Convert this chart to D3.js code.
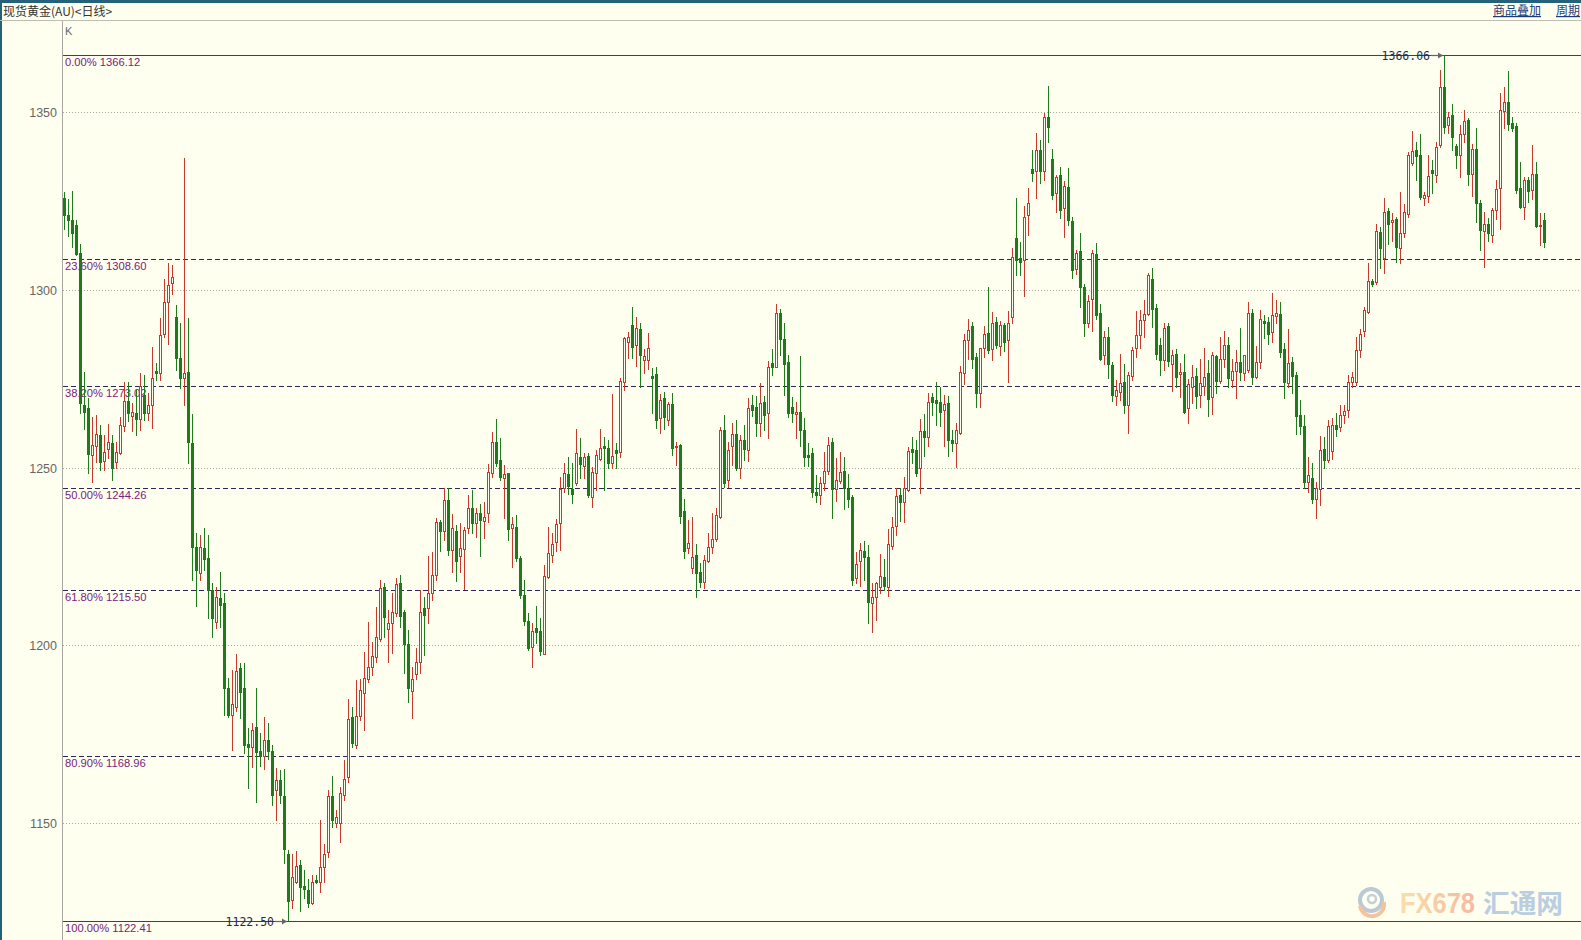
<!DOCTYPE html>
<html><head><meta charset="utf-8">
<script src="https://cdn.jsdelivr.net/npm/d3@7"></script>
<style>
html,body{margin:0;padding:0;background:#FFFFF0;overflow:hidden;}
svg{display:block;}
</style></head><body>
<svg id="c" width="1581" height="940"></svg>
<script>
const opens = [
1325.8,1321.0,1319.7,1318.3,1310.5,1267.6,1266.7,1253.6,1256.1,1259.2,
1252.0,1255.2,1256.8,1251.5,1254.0,1261.7,1268.8,1264.6,1265.3,1263.6,
1270.4,1265.5,1267.5,1277.2,1276.5,1287.5,1296.7,1301.9,1292.5,1280.8,
1275.1,1277.0,1257.0,1227.7,1220.4,1227.3,1224.5,1215.7,1206.6,1213.2,
1212.0,1188.1,1180.4,1182.7,1193.5,1188.1,1172.2,1171.5,1176.9,1170.3,
1168.8,1173.3,1170.3,1159.3,1162.1,1157.6,1141.2,1128.3,1133.5,1138.2,
1132.2,1131.1,1127.5,1133.9,1133.5,1137.5,1141.9,1157.6,1149.9,1149.9,
1157.9,1162.8,1179.7,1172.0,1180.1,1186.5,1190.4,1194.0,1196.8,1201.7,
1216.5,1204.5,1206.3,1209.0,1217.4,1209.4,1200.5,1187.2,1191.9,1195.4,
1210.4,1210.4,1214.8,1219.8,1234.8,1232.3,1240.9,1226.8,1232.3,1225.0,
1227.0,1232.9,1238.6,1234.5,1237.1,1235.1,1237.1,1248.6,1257.3,1252.1,
1247.0,1248.6,1232.9,1233.2,1224.5,1214.2,1206.7,1199.4,1204.8,1204.1,
1197.6,1219.1,1225.4,1229.2,1234.3,1244.2,1248.2,1243.9,1245.6,1252.9,
1250.5,1253.3,1241.6,1248.6,1252.3,1256.1,1255.4,1251.2,1255.0,1254.5,
1274.2,1285.4,1290.1,1284.5,1288.9,1280.3,1280.3,1275.8,1276.3,1263.9,
1269.5,1263.4,1267.9,1255.7,1256.4,1237.9,1227.3,1221.7,1225.4,1220.7,
1217.9,1223.8,1227.8,1229.8,1236.2,1260.6,1246.5,1256.1,1259.5,1249.8,
1257.8,1255.0,1267.6,1267.1,1262.5,1268.6,1265.3,1279.5,1278.4,1293.4,
1286.1,1279.8,1267.1,1265.1,1265.7,1260.6,1253.6,1254.2,1243.2,1242.3,
1245.6,1249.1,1257.3,1243.9,1246.3,1249.1,1243.9,1241.6,1218.8,1223.6,
1226.6,1224.9,1212.0,1213.7,1216.5,1219.3,1216.5,1227.9,1233.6,1242.3,
1240.4,1243.7,1255.1,1254.9,1249.8,1260.4,1258.7,1269.9,1269.0,1268.5,
1266.2,1268.1,1257.9,1256.8,1259.8,1276.7,1285.9,1289.8,1281.2,1270.9,
1283.8,1288.0,1283.3,1291.0,1284.2,1290.1,1285.9,1292.3,1314.5,1308.9,
1308.4,1321.1,1333.9,1333.6,1339.4,1333.6,1348.6,1336.8,1327.2,1332.3,
1323.2,1328.9,1319.5,1305.8,1311.0,1300.7,1290.6,1297.4,1310.1,1293.6,
1281.7,1286.7,1278.9,1270.2,1271.4,1274.2,1267.6,1275.8,1283.8,1287.3,
1291.5,1293.2,1303.0,1294.8,1284.5,1280.3,1289.9,1279.3,1281.9,1276.3,
1277.0,1266.7,1272.8,1275.8,1270.4,1272.9,1276.5,1269.9,1281.4,1274.4,
1280.7,1284.5,1274.6,1277.3,1279.8,1276.7,1277.5,1293.4,1275.6,1279.8,
1291.3,1291.0,1288.3,1292.7,1293.2,1283.3,1273.9,1279.8,1276.0,1264.8,
1261.7,1246.0,1247.0,1241.1,1243.9,1255.1,1252.1,1254.8,1262.0,1261.3,
1264.8,1266.2,1274.2,1274.2,1283.0,1288.5,1293.9,1302.5,1302.3,1316.4,
1308.9,1322.2,1319.0,1320.0,1311.7,1315.9,1321.3,1335.6,1339.4,1338.0,
1326.0,1326.5,1333.7,1332.3,1340.8,1357.2,1346.4,1349.2,1340.6,1338.0,
1343.8,1347.8,1332.5,1339.8,1324.6,1316.6,1318.5,1315.6,1322.5,1328.6,
1350.4,1352.8,1346.9,1346.2,1328.6,1323.4,1330.9,1328.1,1332.5,1318.0,
1319.7];
const highs = [
1327.7,1325.5,1327.9,1319.7,1313.0,1277.0,1269.5,1264.3,1264.8,1261.9,
1259.2,1262.2,1259.2,1257.1,1264.3,1274.2,1274.2,1268.1,1271.8,1276.7,
1276.1,1270.9,1284.0,1279.4,1292.0,1303.0,1307.5,1307.0,1295.8,1290.6,
1337.0,1292.0,1265.0,1231.5,1231.0,1232.9,1231.0,1217.4,1216.5,1220.7,
1214.6,1190.7,1193.0,1197.5,1195.1,1194.9,1176.6,1178.0,1187.9,1175.2,
1179.9,1178.2,1171.9,1165.6,1164.9,1165.1,1142.4,1141.2,1142.2,1139.6,
1136.7,1134.1,1135.3,1135.3,1150.8,1144.2,1159.3,1163.2,1153.6,1160.2,
1167.7,1184.8,1182.7,1190.2,1190.4,1198.2,1206.6,1201.0,1210.9,1218.5,
1217.4,1210.0,1214.6,1218.8,1219.8,1209.9,1204.3,1194.0,1199.1,1215.5,
1213.7,1225.0,1226.3,1235.7,1235.4,1244.4,1244.2,1237.0,1233.9,1234.3,
1233.4,1242.3,1243.7,1238.6,1239.8,1240.4,1251.0,1260.1,1263.6,1258.2,
1250.7,1248.6,1236.0,1236.7,1225.0,1218.4,1209.0,1206.2,1211.1,1207.6,
1222.6,1233.4,1231.7,1235.5,1247.4,1251.2,1253.1,1251.4,1260.8,1258.2,
1254.2,1254.0,1250.3,1255.0,1261.0,1258.7,1257.8,1270.7,1257.0,1275.1,
1286.9,1288.3,1295.3,1292.5,1290.8,1283.3,1288.0,1278.0,1278.4,1270.7,
1271.4,1268.6,1270.9,1257.3,1256.6,1241.1,1235.3,1236.2,1228.5,1223.1,
1225.4,1231.5,1237.1,1238.5,1261.3,1264.8,1257.3,1262.5,1263.4,1259.2,
1262.0,1269.5,1270.5,1270.1,1273.7,1270.1,1280.1,1283.3,1296.0,1294.5,
1290.6,1281.7,1269.8,1268.6,1281.4,1263.9,1257.0,1255.4,1247.9,1247.4,
1254.5,1258.7,1258.2,1252.6,1254.5,1252.9,1248.2,1242.3,1226.3,1228.9,
1229.4,1228.2,1217.6,1217.9,1225.7,1224.2,1232.6,1236.2,1244.2,1244.2,
1247.4,1255.9,1258.7,1257.8,1263.6,1265.1,1270.9,1271.1,1274.2,1272.8,
1270.4,1270.1,1260.6,1262.5,1278.6,1287.6,1291.7,1291.0,1282.2,1283.6,
1289.8,1300.7,1293.9,1292.5,1291.3,1290.8,1294.2,1311.7,1325.8,1313.6,
1323.6,1328.6,1339.4,1344.3,1342.2,1349.9,1357.4,1339.8,1332.3,1334.7,
1330.8,1334.2,1320.6,1311.2,1315.9,1301.7,1298.6,1311.2,1313.3,1296.0,
1288.5,1289.5,1279.8,1274.7,1282.0,1279.3,1277.0,1284.0,1294.2,1294.4,
1297.2,1304.9,1306.1,1296.0,1286.4,1290.6,1290.8,1283.1,1283.3,1279.5,
1282.1,1274.8,1278.8,1277.9,1280.7,1283.8,1280.3,1282.6,1281.7,1286.8,
1288.5,1286.8,1280.7,1283.1,1289.2,1281.7,1296.7,1294.5,1284.2,1294.4,
1292.9,1292.5,1299.2,1297.2,1296.7,1285.0,1288.9,1281.2,1277.0,1269.0,
1264.8,1253.1,1251.2,1246.0,1258.9,1258.7,1263.4,1263.9,1265.3,1267.6,
1267.6,1276.0,1277.0,1286.8,1289.0,1295.3,1307.5,1303.2,1318.7,1317.8,
1325.8,1323.1,1321.6,1320.6,1327.6,1324.1,1338.9,1344.7,1341.7,1343.8,
1327.6,1338.0,1336.6,1341.7,1361.9,1366.06,1350.2,1352.2,1341.0,1346.4,
1350.6,1348.3,1341.0,1345.7,1325.3,1322.0,1320.2,1323.1,1330.9,1355.3,
1357.2,1361.6,1348.8,1346.9,1335.9,1331.9,1331.9,1340.8,1336.1,1321.6,
1321.6];
const lows = [
1317.1,1315.2,1312.2,1309.8,1265.3,1261.0,1248.6,1246.0,1251.7,1249.3,
1249.2,1252.6,1246.5,1249.8,1253.8,1260.4,1263.2,1260.4,1259.2,1260.6,
1263.4,1263.4,1261.1,1274.7,1274.7,1286.7,1284.7,1299.0,1277.5,1272.3,
1267.6,1251.2,1218.5,1211.0,1218.5,1221.2,1207.6,1202.4,1204.8,1205.2,
1180.4,1179.9,1170.5,1181.6,1179.4,1169.6,1159.7,1165.8,1156.0,1166.0,
1165.1,1167.9,1155.0,1150.8,1155.5,1138.6,1122.5,1126.0,1133.0,1125.3,
1128.8,1126.4,1127.2,1133.0,1130.7,1133.5,1140.5,1148.9,1148.9,1144.7,
1156.4,1161.6,1171.5,1171.0,1179.1,1176.1,1189.7,1191.6,1195.4,1201.3,
1202.4,1195.4,1197.7,1208.2,1205.2,1192.3,1184.1,1179.4,1190.4,1192.1,
1197.2,1206.4,1212.7,1218.4,1226.4,1229.6,1225.4,1220.7,1218.2,1220.7,
1215.8,1231.5,1231.7,1230.4,1225.0,1230.1,1234.8,1247.5,1250.5,1246.5,
1235.7,1229.6,1222.0,1223.8,1213.2,1205.7,1198.7,1194.0,1200.6,1197.3,
1197.6,1218.9,1223.5,1226.4,1226.8,1243.2,1242.6,1240.0,1245.1,1247.0,
1247.0,1241.6,1239.0,1243.7,1252.1,1243.7,1249.8,1249.8,1249.8,1252.9,
1271.8,1280.8,1280.8,1278.6,1272.8,1276.5,1277.7,1265.3,1261.1,1259.8,
1260.8,1262.0,1253.6,1250.7,1234.5,1224.5,1225.9,1220.3,1213.7,1216.5,
1216.0,1223.5,1225.9,1229.4,1235.7,1244.6,1244.6,1250.7,1249.3,1247.0,
1252.1,1252.0,1264.5,1258.9,1258.9,1260.6,1258.2,1276.1,1278.2,1281.7,
1270.5,1264.2,1262.7,1258.2,1256.1,1250.5,1250.5,1241.6,1240.4,1239.8,
1243.7,1248.2,1235.7,1240.7,1245.8,1238.3,1239.0,1216.9,1217.4,1216.7,
1218.5,1206.4,1203.8,1207.1,1214.6,1215.5,1213.8,1227.0,1231.0,1235.1,
1234.8,1243.5,1251.2,1247.6,1242.8,1253.3,1256.1,1264.8,1262.0,1261.7,
1256.1,1253.3,1254.8,1250.3,1259.6,1273.5,1280.5,1277.9,1267.2,1267.2,
1281.2,1282.3,1280.3,1283.6,1281.7,1282.9,1274.2,1290.6,1304.2,1304.2,
1298.3,1315.5,1330.7,1325.8,1330.2,1331.0,1341.7,1325.5,1322.0,1320.2,
1315.0,1318.3,1303.5,1304.5,1295.3,1287.1,1289.7,1288.5,1291.7,1280.3,
1279.2,1275.1,1268.8,1267.6,1269.1,1265.5,1259.7,1274.7,1281.1,1283.6,
1286.8,1292.9,1289.5,1280.5,1276.1,1277.5,1278.6,1271.7,1272.6,1270.0,
1265.3,1262.6,1268.1,1266.7,1267.1,1270.4,1264.5,1265.0,1270.9,1273.9,
1278.4,1272.8,1272.6,1269.5,1274.6,1274.6,1277.0,1273.5,1275.1,1277.9,
1286.4,1284.8,1285.4,1290.6,1281.2,1269.5,1272.8,1270.9,1259.6,1259.6,
1244.4,1243.0,1240.0,1235.7,1239.5,1249.8,1251.6,1252.3,1259.0,1260.4,
1262.5,1264.3,1272.8,1273.2,1281.0,1287.0,1293.4,1301.0,1301.8,1306.1,
1304.7,1312.8,1313.8,1308.0,1307.5,1315.0,1320.6,1335.2,1330.9,1325.6,
1323.9,1324.8,1327.2,1330.5,1340.3,1344.1,1344.1,1339.4,1334.2,1331.9,
1341.7,1329.5,1326.5,1319.2,1311.2,1306.5,1313.8,1313.6,1320.0,1317.2,
1345.5,1345.0,1344.7,1327.2,1323.0,1320.0,1324.8,1325.6,1317.8,1312.6,
1312.2];
const closes = [
1321.1,1319.7,1315.9,1310.1,1268.1,1265.7,1253.8,1256.4,1259.4,1251.7,
1254.5,1257.1,1249.8,1254.5,1261.9,1268.8,1265.5,1265.6,1263.6,1273.0,
1265.5,1267.6,1275.1,1276.5,1287.3,1296.7,1301.4,1303.7,1280.8,1275.1,
1276.5,1257.3,1227.7,1221.2,1227.7,1224.2,1215.5,1207.8,1213.7,1211.3,
1188.1,1180.4,1183.5,1192.8,1186.9,1171.9,1171.3,1176.3,1170.0,1168.8,
1173.3,1170.3,1157.9,1162.1,1157.9,1142.8,1128.1,1134.7,1137.9,1131.9,
1131.3,1127.5,1133.5,1133.4,1137.7,1141.4,1157.6,1150.8,1151.6,1158.3,
1162.5,1179.2,1172.4,1180.1,1187.4,1190.7,1194.0,1197.0,1202.2,1216.0,
1208.0,1206.3,1209.4,1217.2,1208.2,1200.5,1187.9,1190.4,1195.4,1209.4,
1208.5,1214.8,1219.8,1234.8,1232.3,1240.9,1226.8,1232.9,1223.8,1227.3,
1232.4,1238.6,1234.3,1237.1,1235.3,1236.2,1248.9,1257.3,1251.4,1247.3,
1248.2,1232.6,1234.1,1224.5,1214.2,1206.7,1199.1,1204.1,1203.8,1198.5,
1219.5,1226.1,1228.5,1234.1,1243.9,1248.6,1244.8,1242.6,1254.2,1251.0,
1253.1,1242.3,1248.9,1253.6,1255.4,1255.4,1251.4,1253.3,1254.2,1274.5,
1286.4,1286.7,1284.0,1289.2,1281.7,1281.4,1283.8,1275.2,1263.4,1269.0,
1264.2,1267.9,1255.4,1256.2,1236.4,1226.6,1228.9,1224.9,1220.4,1217.9,
1224.0,1227.6,1229.8,1236.7,1260.6,1245.6,1255.0,1259.5,1249.8,1257.8,
1255.1,1266.7,1266.2,1262.5,1268.3,1264.8,1278.4,1278.4,1293.4,1286.1,
1279.3,1265.5,1265.3,1265.7,1260.6,1253.1,1252.9,1243.0,1242.3,1245.6,
1249.1,1256.4,1243.9,1246.5,1248.9,1244.2,1241.1,1218.5,1222.9,1226.7,
1224.8,1212.3,1213.7,1217.4,1219.5,1216.7,1228.5,1233.4,1242.0,1240.4,
1244.2,1254.8,1254.5,1248.4,1260.4,1258.5,1268.5,1268.5,1268.3,1265.7,
1267.9,1257.9,1257.0,1260.6,1277.0,1285.9,1288.7,1280.7,1270.9,1283.6,
1287.6,1283.1,1290.8,1284.5,1290.1,1285.4,1290.8,1309.4,1308.4,1308.0,
1320.4,1324.4,1333.0,1339.4,1333.6,1348.6,1345.8,1326.7,1331.7,1322.5,
1329.3,1319.7,1305.6,1310.3,1300.7,1290.6,1297.0,1310.5,1292.9,1280.5,
1286.7,1279.2,1270.4,1271.8,1273.9,1267.6,1276.1,1283.1,1287.3,1291.5,
1293.2,1304.2,1294.5,1281.9,1280.3,1289.2,1280.1,1281.7,1275.6,1277.0,
1265.7,1273.5,1275.6,1270.1,1273.7,1275.6,1269.2,1281.7,1274.4,1280.7,
1284.5,1275.1,1277.3,1279.8,1277.0,1281.7,1293.4,1275.6,1279.8,1291.7,
1290.6,1287.6,1292.9,1293.6,1282.6,1274.2,1279.5,1275.8,1264.5,1261.7,
1246.0,1247.9,1241.1,1244.2,1254.9,1252.1,1261.7,1262.0,1261.0,1264.8,
1266.0,1274.2,1275.4,1283.1,1287.5,1294.3,1302.5,1301.6,1316.6,1311.7,
1322.0,1318.7,1319.7,1312.2,1315.9,1322.0,1338.0,1339.1,1337.8,1326.2,
1326.7,1332.2,1332.8,1340.3,1357.2,1345.9,1348.8,1343.1,1338.0,1343.8,
1347.5,1332.5,1339.6,1324.6,1316.9,1318.5,1315.9,1322.5,1328.4,1350.6,
1352.8,1346.6,1345.5,1328.1,1323.4,1330.9,1327.8,1332.5,1318.1,1318.3,
1313.6];

const yTicks = [1150, 1200, 1250, 1300, 1350];
const fibPercents = ["0.00%", "23.60%", "38.20%", "50.00%", "61.80%", "80.90%", "100.00%"];
const fibValues = [1366.12, 1308.60, 1273.02, 1244.26, 1215.50, 1168.96, 1122.41];
const titleText = "现货黄金(AU)<日线>";
const headerLinks = ["商品叠加", "周期"];
const markIndex = [345, 56];
const markLabels = ["1366.06", "1122.50"];
const markPrices = [1366.06, 1122.50];

const W = 1581, H = 940;
const BG = "#FFFFF0";
const RED = "#C9382C", GREEN = "#1D7A1D";
const svg = d3.select("#c");

const x = d3.scaleLinear().domain([0, opens.length - 1]).range([64, 1544]);
const y = d3.scaleLinear().domain([1122.41, 1366.12]).range([921, 55]);

svg.append("rect").attr("width", W).attr("height", H).attr("fill", BG);

// watermark
const defs = svg.append("defs");
const g1 = defs.append("linearGradient").attr("id", "fxg").attr("x1", "0").attr("x2", "1").attr("y1", "0").attr("y2", "0");
g1.append("stop").attr("offset", "0").attr("stop-color", "#F8DA9C");
g1.append("stop").attr("offset", "1").attr("stop-color", "#F4AE98");
const wm = svg.append("g").attr("opacity", 0.85);
wm.append("circle").attr("cx", 1371).attr("cy", 900).attr("r", 11).attr("fill", "none")
  .attr("stroke", "#AFC0D0").attr("stroke-width", 4);
wm.append("path").attr("d", "M1360,906 A12,12 0 0 0 1384,902").attr("fill", "none")
  .attr("stroke", "#F4B890").attr("stroke-width", 4);
wm.append("circle").attr("cx", 1372).attr("cy", 899).attr("r", 4).attr("fill", "none")
  .attr("stroke", "#B8C6D4").attr("stroke-width", 2.5);
wm.append("text").attr("x", 1400).attr("y", 913).attr("font-family", "Liberation Sans, Arial, sans-serif")
  .attr("font-size", 29).attr("font-weight", "bold").attr("textLength", 75).attr("lengthAdjust", "spacingAndGlyphs")
  .attr("fill", "url(#fxg)").text("FX678");
wm.append("text").attr("x", 1483).attr("y", 913).attr("font-family", "Noto Sans CJK SC, sans-serif")
  .attr("font-size", 26).attr("font-weight", "bold").attr("textLength", 80).attr("lengthAdjust", "spacingAndGlyphs")
  .attr("fill", "#AFC6DE").text("汇通网");

// header
svg.append("rect").attr("x", 0).attr("y", 0).attr("width", W).attr("height", 3).attr("fill", "#24627A");
svg.append("rect").attr("x", 0).attr("y", 0).attr("width", 2).attr("height", H).attr("fill", "#24627A");
svg.append("line").attr("x1", 0).attr("x2", W).attr("y1", 20.5).attr("y2", 20.5).attr("stroke", "#BDBDB0");
svg.append("text").attr("x", 3).attr("y", 16).attr("font-family", "Noto Sans CJK SC, sans-serif")
  .attr("font-size", 12).attr("fill", "#333").text(titleText);
const linkX = [1493, 1556];
headerLinks.forEach((t, i) => {
  svg.append("text").attr("x", linkX[i]).attr("y", 15).attr("font-family", "Noto Sans CJK SC, sans-serif")
    .attr("font-size", 12).attr("fill", "#1E3C78").attr("text-decoration", "underline").text(t);
});

// axis
svg.append("line").attr("x1", 62.5).attr("x2", 62.5).attr("y1", 21).attr("y2", H).attr("stroke", "#A8A8A0");
svg.append("text").attr("x", 65).attr("y", 35).attr("font-family", "Liberation Sans, Arial, sans-serif")
  .attr("font-size", 11).attr("fill", "#666").text("K");

const grid = svg.append("g");
yTicks.forEach(t => {
  const yy = Math.round(y(t)) + 0.5;
  grid.append("line").attr("x1", 63).attr("x2", W).attr("y1", yy).attr("y2", yy)
    .attr("stroke", "#A9A99E").attr("stroke-dasharray", "1,2");
  grid.append("text").attr("x", 57).attr("y", yy + 4.5).attr("text-anchor", "end")
    .attr("font-family", "Liberation Sans, Arial, sans-serif").attr("font-size", 12.5)
    .attr("fill", "#666").text(t);
});

// fib lines
const fib = svg.append("g");
fibValues.forEach((v, i) => {
  const yy = Math.round(y(v)) + 0.5;
  const solid = (i === 0 || i === fibValues.length - 1);
  fib.append("line").attr("x1", 63).attr("x2", W).attr("y1", yy).attr("y2", yy)
    .attr("stroke", solid ? "#5B2A7C" : "#2F2458").attr("stroke-width", 1)
    .attr("stroke-dasharray", solid ? null : "5,3");
  fib.append("text").attr("x", 65).attr("y", yy + 10.5)
    .attr("font-family", "Liberation Sans, Arial, sans-serif").attr("font-size", 11.2)
    .attr("fill", "#7A2279").text(fibPercents[i] + " " + v.toFixed(2));
});

// candles
const cg = svg.append("g");
opens.forEach((o, i) => {
  const c = closes[i], h = highs[i], l = lows[i];
  const cx = Math.round(x(i));
  const up = c >= o;
  const col = up ? RED : GREEN;
  cg.append("line").attr("x1", cx + 0.5).attr("x2", cx + 0.5)
    .attr("y1", Math.round(y(h))).attr("y2", Math.round(y(l)) + 1)
    .attr("stroke", col).attr("stroke-width", 1);
  const top = Math.round(y(Math.max(o, c)));
  const bot = Math.round(y(Math.min(o, c)));
  if (up) {
    cg.append("rect").attr("x", cx - 0.5).attr("y", top + 0.5)
      .attr("width", 2).attr("height", Math.max(bot - top, 1))
      .attr("fill", BG).attr("stroke", col).attr("stroke-width", 1);
  } else {
    cg.append("rect").attr("x", cx - 1).attr("y", top)
      .attr("width", 3).attr("height", Math.max(bot - top + 1, 1))
      .attr("fill", col);
  }
});

// high/low marks
const mg = svg.append("g");
markIndex.forEach((idx, i) => {
  const cx = Math.round(x(idx));
  const yy = Math.round(y(markPrices[i])) + 0.5;
  mg.append("line").attr("x1", cx - 13).attr("x2", cx - 1).attr("y1", yy).attr("y2", yy)
    .attr("stroke", "#666").attr("stroke-width", 1.2);
  mg.append("path").attr("d", `M${cx - 1},${yy} l-5,-3 l0,6 z`).attr("fill", "#666");
  mg.append("text").attr("x", cx - 14).attr("y", yy + 4).attr("text-anchor", "end")
    .attr("font-family", "DejaVu Sans Mono, monospace").attr("font-size", 11.5)
    .attr("fill", "#1C2C4C").text(markLabels[i]);
});
</script>
</body></html>
